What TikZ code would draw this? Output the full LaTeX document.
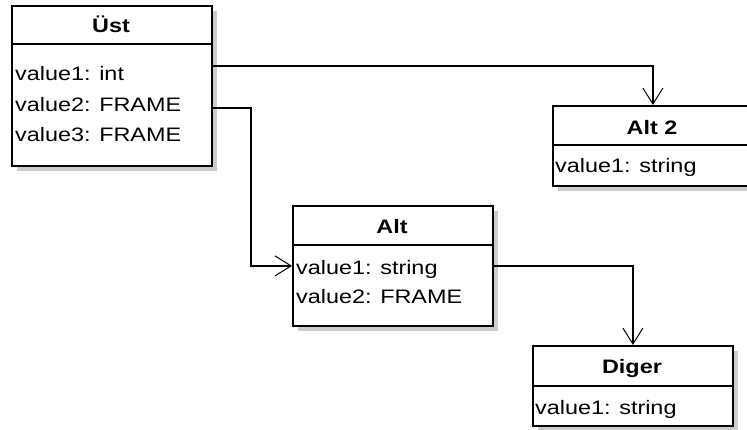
\documentclass[tikz,border=0pt]{standalone}
\usepackage{fontspec}
\setmainfont[FakeStretch=1.2]{Liberation Sans}
\usetikzlibrary{arrows.meta,shadows,calc}
\begin{document}
\begin{tikzpicture}[x=1pt,y=-1pt,
  box/.style={draw, line width=1.8pt, fill=white, anchor=north west,
    minimum width=200pt, inner sep=0pt,
    drop shadow={shadow xshift=5pt, shadow yshift=-5pt, fill=black!20, opacity=1}},
  sep/.style={line width=1.8pt},
  title/.style={anchor=base, inner sep=0pt, font=\fontsize{19.5}{23}\selectfont\bfseries},
  row/.style={anchor=base west, inner sep=0pt, font=\fontsize{19.5}{23}\selectfont},
  conn/.style={line width=1.5pt, -{Straight Barb[length=16pt, width=20pt, line width=1pt]}}]
\useasboundingbox (0,0) rectangle (747,430);
% boxes
\node[box, minimum height=160pt] (ust) at (11,5) {};
\node[box, minimum height=80pt] (alt2) at (552,105) {};
\node[box, minimum height=120pt] (alt) at (292,205) {};
\node[box, minimum height=80pt] (diger) at (532,345) {};
% header separators
\draw[sep] (11,44) -- (211,44);
\draw[sep] (552,145) -- (752,145);
\draw[sep] (292,245) -- (492,245);
\draw[sep] (532,386) -- (732,386);
% titles
\node[title] (ustt) at (111,33) {Üst};
\node[title] (alt2t) at (652,135) {Alt 2};
\node[title] (altt) at (392,234) {Alt};
\node[title] (digert) at (632,373) {Diger};
% rows
\node[row] (u1) at (15,81) {value1: int};
\node[row] (u2) at (15,112) {value2: FRAME};
\node[row] (u3) at (15,142) {value3: FRAME};
\node[row] (a21) at (555,173) {value1: string};
\node[row] (a1) at (296,275) {value1: string};
\node[row] (a2) at (296,304) {value2: FRAME};
\node[row] (d1) at (535,414) {value1: string};
% connectors
\draw[conn] ($(ust.east)+(0,-20)$) -| (alt2.north);
\draw[conn] ($(ust.east)+(0,22)$) -- ++(38,0) |- (alt.west);
\draw[conn] (alt.east) -| (diger.north);
\end{tikzpicture}
\end{document}
